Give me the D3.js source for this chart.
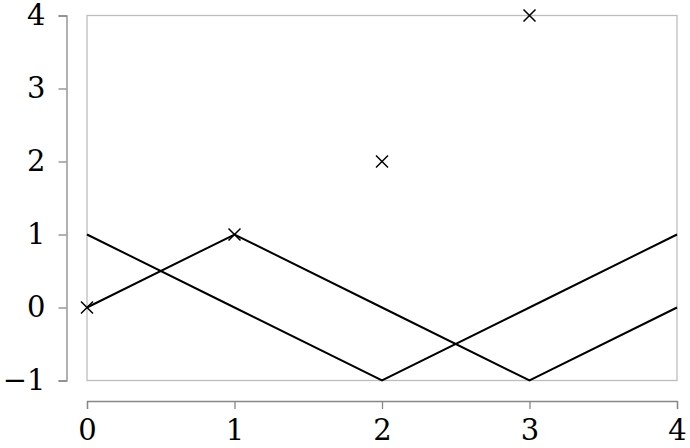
<!DOCTYPE html>
<html><head><meta charset="utf-8">
<script src="https://cdn.jsdelivr.net/npm/d3@7"></script>
<style>body{margin:0;background:#fff}svg{display:block}text{font-family:"DejaVu Serif","Liberation Serif",serif}</style>
</head><body><svg id="c" width="690" height="448"></svg>
<script>
const xTicks = [0, 1, 2, 3, 4];
const yTicks = [-1, 0, 1, 2, 3, 4];
const lineX = [0, 1, 2, 3, 4];
const seriesA = [1, 0, -1, 0, 1];
const seriesB = [0, 1, 0, -1, 0];
const markerX = [0, 1, 2, 3];
const markerY = [0, 1, 2, 4];

const svg = d3.select("#c");
const x = d3.scaleLinear().domain([0, 4]).range([87, 677]);
const y = d3.scaleLinear().domain([-1, 4]).range([380.5, 15.5]);
const fmt = d => d < 0 ? "\u2212" + Math.abs(d) : String(d);

// frame
svg.append("rect").attr("x", x(0)).attr("y", y(4)).attr("width", x(4) - x(0)).attr("height", y(-1) - y(4))
  .attr("fill", "none").attr("stroke", "#bdbdbd").attr("stroke-width", 1.3);

// y axis
const yAxis = svg.append("g").attr("transform", "translate(66.5,0)")
  .call(d3.axisLeft(y).tickValues(yTicks).tickSize(8).tickSizeOuter(8).tickPadding(13).tickFormat(fmt));
// x axis
const xAxis = svg.append("g").attr("transform", "translate(0,401)")
  .call(d3.axisBottom(x).tickValues(xTicks).tickSize(8).tickSizeOuter(8).tickPadding(10).tickFormat(fmt));
[yAxis, xAxis].forEach(g => {
  g.selectAll("path,line").attr("stroke", "#888").attr("stroke-width", 1.3);
  g.selectAll("text").attr("font-size", 29).attr("fill", "#000")
    .style("font-family", "'DejaVu Serif','Liberation Serif',serif");
});

const line = d3.line().x(d => x(d[0])).y(d => y(d[1]));
[seriesA, seriesB].forEach(s => {
  svg.append("path").datum(lineX.map((v, i) => [v, s[i]])).attr("d", line)
    .attr("fill", "none").attr("stroke", "#000").attr("stroke-width", 2);
});

const r = 6;
svg.append("g").selectAll("path").data(markerX.map((v, i) => [v, markerY[i]])).join("path")
  .attr("d", d => `M${x(d[0]) - r},${y(d[1]) - r}L${x(d[0]) + r},${y(d[1]) + r}M${x(d[0]) - r},${y(d[1]) + r}L${x(d[0]) + r},${y(d[1]) - r}`)
  .attr("stroke", "#000").attr("stroke-width", 1.5).attr("fill", "none");
</script></body></html>
